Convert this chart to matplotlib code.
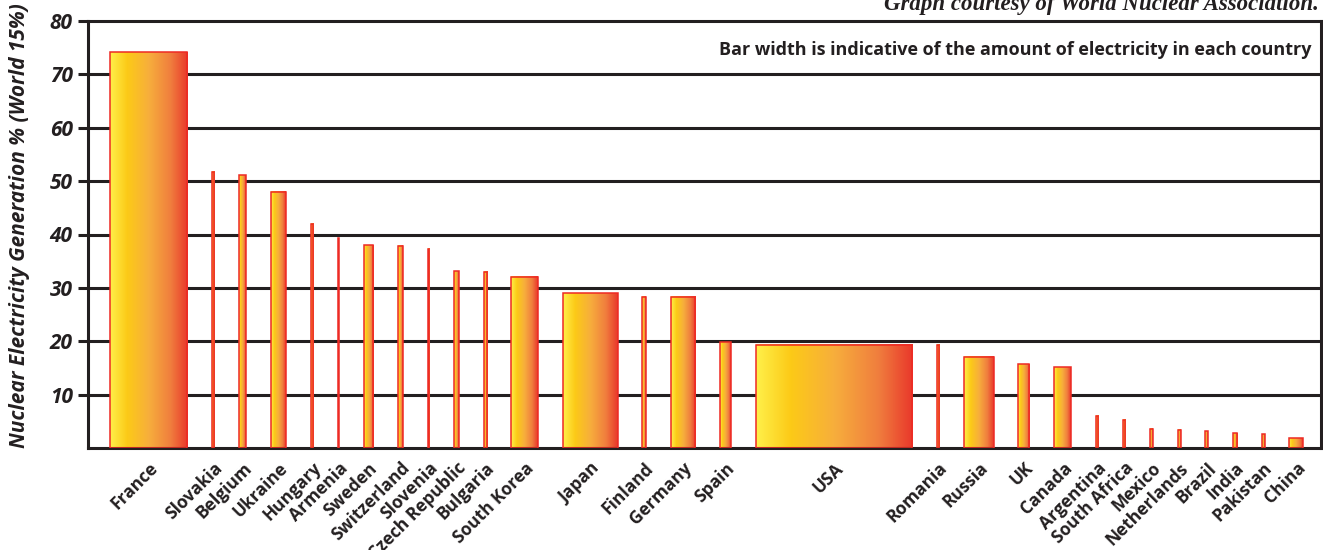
import matplotlib
matplotlib.use("Agg")
import matplotlib.pyplot as plt
import numpy as np
from matplotlib.colors import LinearSegmentedColormap
from matplotlib.patches import Rectangle

countries = ["France", "Slovakia", "Belgium", "Ukraine", "Hungary", "Armenia", "Sweden",
             "Switzerland", "Slovenia", "Czech Republic", "Bulgaria", "South Korea", "Japan",
             "Finland", "Germany", "Spain", "USA", "Romania", "Russia", "UK", "Canada",
             "Argentina", "South Africa", "Mexico", "Netherlands", "Brazil", "India",
             "Pakistan", "China"]
share_pct = [74.1, 51.8, 51.1, 48.0, 42.0, 39.3, 38.0, 37.9, 37.3, 33.1, 33.0, 32.1, 29.0,
             28.3, 28.3, 19.8, 19.3, 19.3, 17.1, 15.7, 15.1, 6.0, 5.3, 3.6, 3.4, 3.1, 2.8,
             2.6, 1.8]
# bar width ~ amount of nuclear electricity (TWh)
amount_twh = [406, 13, 36, 79, 13, 3, 52, 25, 6, 25, 16, 141, 287, 18, 130, 55, 824, 11,
              157, 58, 88, 12, 13, 15, 13, 15, 22, 13, 73]
yticks = [10, 20, 30, 40, 50, 60, 70, 80]

GAP = 131.0
LEFT_MARGIN = 116.0
RIGHT_MARGIN = 93.0
DARK = "#231F20"
EDGE = "#EE2A24"

cmap = LinearSegmentedColormap.from_list(
    "nuc", [(0.0, "#FFF04A"), (0.22, "#FCCA17"), (0.5, "#F7AE3C"),
            (0.78, "#F07E3E"), (1.0, "#E9382B")])

fig = plt.figure(figsize=(13.23, 5.5), dpi=100)
ax = fig.add_axes([88 / 1323, (550 - 448) / 550, (1321 - 88) / 1323, (448 - 21) / 550])

grad = np.linspace(0, 1, 256).reshape(1, -1)
x = LEFT_MARGIN
centers = []
for h, w in zip(share_pct, amount_twh):
    ax.imshow(grad, extent=[x, x + w, 0, h], aspect="auto", cmap=cmap,
              origin="lower", zorder=2, interpolation="bilinear")
    ax.add_patch(Rectangle((x, 0), w, h, fill=False, edgecolor=EDGE,
                           linewidth=1.1, zorder=3))
    centers.append(x + w / 2)
    x += w + GAP
x_end = x - GAP + RIGHT_MARGIN

ax.set_xlim(0, x_end)
ax.set_ylim(0, 80)
ax.set_aspect("auto")

for yv in yticks[:-1]:
    ax.axhline(yv, color=DARK, linewidth=2.2, zorder=1)

for s in ax.spines.values():
    s.set_color(DARK)
    s.set_linewidth(2.2)

ax.set_yticks(yticks)
ax.set_yticklabels([str(v) for v in yticks], fontfamily="Open Sans",
                   fontweight="bold", fontstyle="italic", fontsize=15, color=DARK)
ax.tick_params(axis="y", direction="out", length=7, width=2.2, color=DARK, pad=4)

ax.set_xticks(centers)
ax.set_xticklabels(countries, rotation=45, ha="right", va="top", rotation_mode="anchor",
                   fontfamily="Open Sans", fontweight="bold", fontsize=12.5, color=DARK)
ax.tick_params(axis="x", length=0, pad=8)

fig.text(20 / 1323, 1 - 226 / 550, "Nuclear Electricity Generation % (World 15%)",
         rotation=90, ha="center", va="center", fontfamily="Open Sans",
         fontweight="bold", fontstyle="italic", fontsize=15, color=DARK)

fig.text(1319 / 1323, 1 - 10 / 550, "Graph courtesy of World Nuclear Association.",
         ha="right", va="baseline", fontfamily="Liberation Serif", fontweight="bold",
         fontstyle="italic", fontsize=16.5, color=DARK)

ax.text(0.992, 74.6, "Bar width is indicative of the amount of electricity in each country",
        transform=ax.get_yaxis_transform(), ha="right", va="center",
        fontfamily="Open Sans", fontweight="bold", fontsize=13, color=DARK, zorder=5)

fig.savefig("out.png", dpi=100)
